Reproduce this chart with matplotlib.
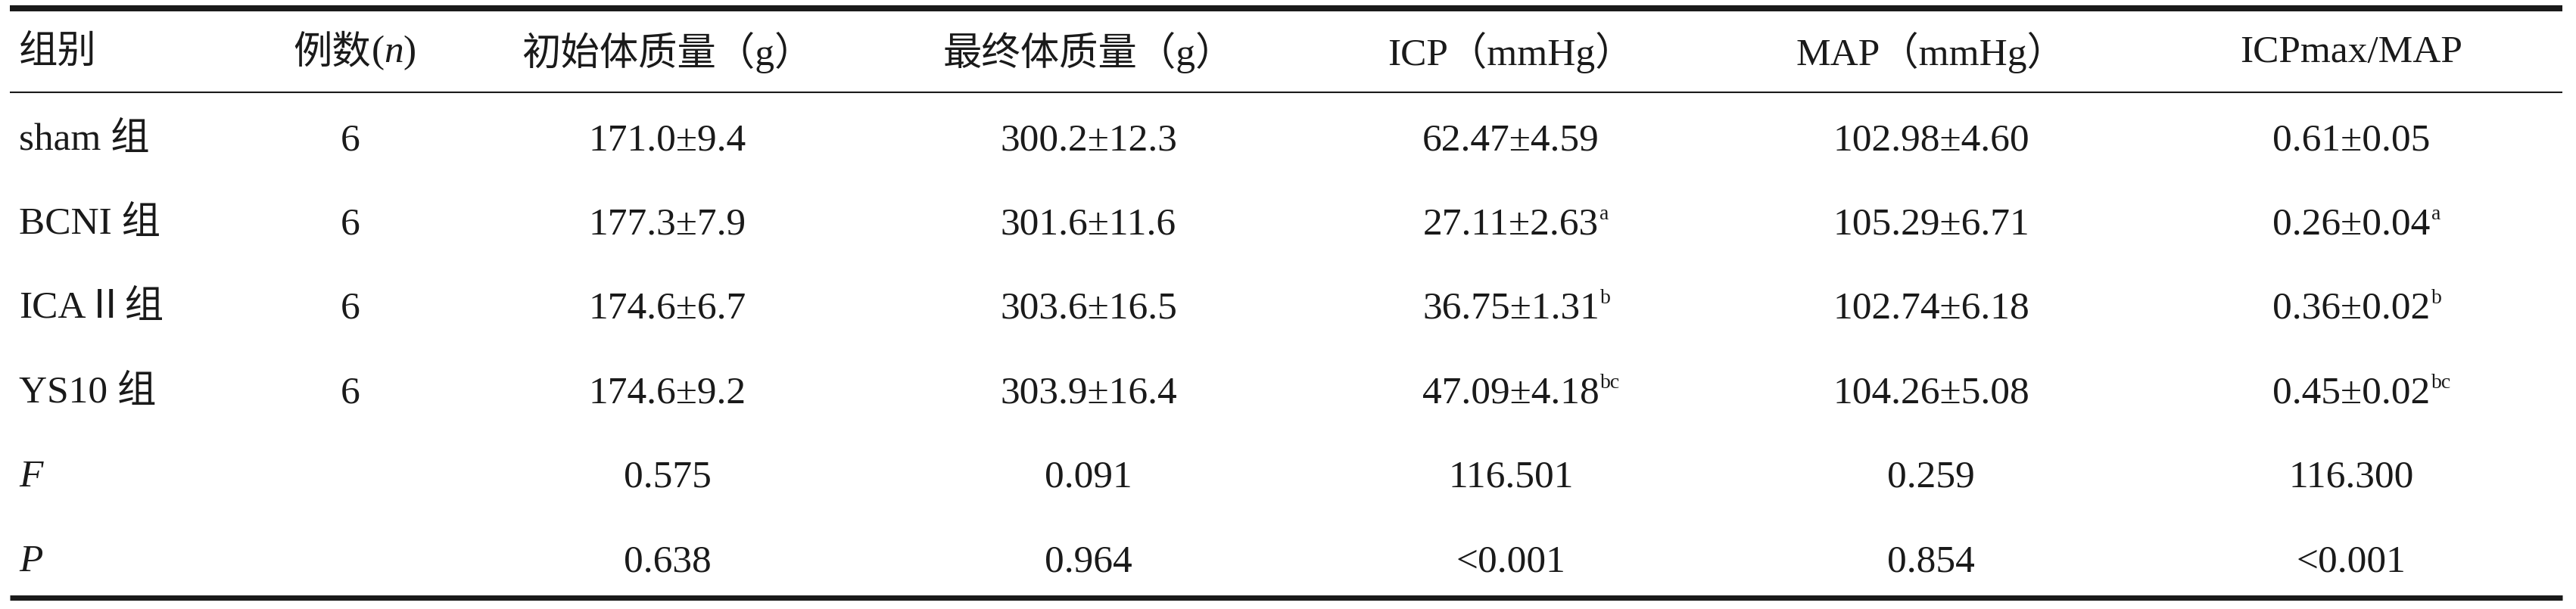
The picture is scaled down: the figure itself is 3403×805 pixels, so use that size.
import matplotlib
matplotlib.use("Agg")
import matplotlib.pyplot as plt

plt.rcParams["font.family"] = ["Liberation Serif", "Noto Sans CJK SC"]
plt.rcParams["mathtext.fontset"] = "custom"
plt.rcParams["mathtext.rm"] = "Liberation Serif"
plt.rcParams["mathtext.it"] = "Liberation Serif:italic"

headers = ["组别", "例数", "初始体质量（g）", "最终体质量（g）",
           "ICP（mmHg）", "MAP（mmHg）", "ICPmax/MAP"]
header_unit_n = "($n$)"
groups = ["sham 组", "BCNI 组", "ICAⅡ组", "YS10 组"]
n_cases = ["6", "6", "6", "6"]
init_weight = ["171.0±9.4", "177.3±7.9", "174.6±6.7", "174.6±9.2"]
final_weight = ["300.2±12.3", "301.6±11.6", "303.6±16.5", "303.9±16.4"]
icp = ["62.47±4.59", "27.11±2.63", "36.75±1.31", "47.09±4.18"]
map_vals = ["102.98±4.60", "105.29±6.71", "102.74±6.18", "104.26±5.08"]
ratio = ["0.61±0.05", "0.26±0.04", "0.36±0.02", "0.45±0.02"]
sig_marks = ["", "a", "b", "bc"]
stat_labels = ["F", "P"]
f_vals = ["0.575", "0.091", "116.501", "0.259", "116.300"]
p_vals = ["0.638", "0.964", "<0.001", "0.854", "<0.001"]

W, H = 3403, 805
fig = plt.figure(figsize=(W / 100, H / 100), dpi=100)
ax = fig.add_axes([0, 0, 1, 1])
ax.set_xlim(0, W)
ax.set_ylim(H, 0)
ax.axis("off")

col_x = [25, 463, 882, 1438, 1996, 2551, 3106]
header_y = 70
baseline_y = [198, 309, 420, 532, 643, 755]
cap_h = 36  # digit height in px at fs
fs = 37
tc = "#1a1a1a"

# rules
ax.hlines(11, 13, 3385, color=tc, lw=5.8)
ax.hlines(122, 13, 3385, color=tc, lw=1.5)
ax.hlines(790, 13, 3385, color=tc, lw=5.0)

# header
for i, h in enumerate(headers):
    if i == 1:
        # CJK part and italic n drawn separately (mathtext has no CJK fallback)
        t = ax.text(490, header_y, h, ha="right", va="center", fontsize=fs, color=tc)
        ax.annotate(header_unit_n, xy=(1, 0.5), xycoords=t, ha="left",
                    va="center", fontsize=fs, color=tc)
        continue
    ax.text(col_x[i], header_y, h, ha="left" if i == 0 else "center",
            va="center", fontsize=fs, color=tc)

# group rows
for r in range(len(groups)):
    cells = [n_cases[r], init_weight[r], final_weight[r],
             icp[r], map_vals[r], ratio[r]]
    y = baseline_y[r]
    ax.text(col_x[0], y, groups[r], ha="left", va="baseline", fontsize=fs, color=tc)
    for c, s in enumerate(cells):
        t = ax.text(col_x[c + 1], y, s, ha="center", va="baseline",
                    fontsize=fs, color=tc)
        if c in (3, 5) and sig_marks[r]:
            # small superscript letters near the top of the digits
            ax.annotate(sig_marks[r], xy=(1, y - cap_h + 17),
                        xycoords=(t, "data"), xytext=(1, 0),
                        textcoords="offset points", ha="left",
                        va="baseline", fontsize=20, color=tc)

# statistics rows
for k, vals in enumerate([f_vals, p_vals]):
    y = baseline_y[4 + k]
    ax.text(col_x[0], y, stat_labels[k], ha="left", va="baseline",
            fontsize=fs, style="italic", color=tc)
    for c, s in enumerate(vals):
        ax.text(col_x[c + 2], y, s, ha="center", va="baseline", fontsize=fs, color=tc)

fig.savefig("out.png", dpi=100)
